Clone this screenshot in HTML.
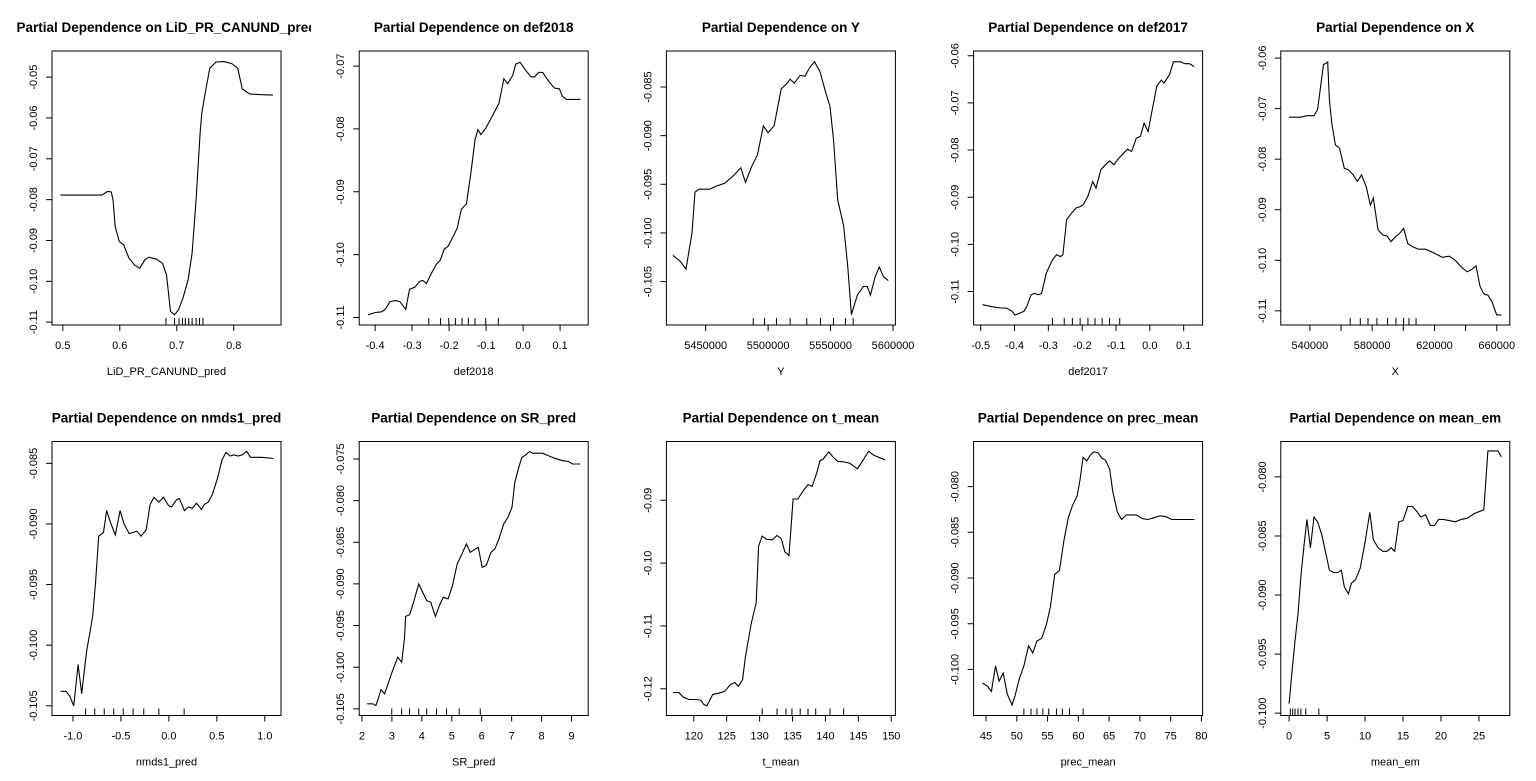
<!DOCTYPE html>
<html><head><meta charset="utf-8">
<style>
html,body{margin:0;padding:0;background:#fff;}
body{width:1536px;height:781px;position:relative;overflow:hidden;font-family:"Liberation Sans",Arial,sans-serif;}
svg{position:absolute;top:0;left:0;}
</style></head>
<body>
<svg id="chart" width="1536" height="781" xmlns="http://www.w3.org/2000/svg"></svg>
<script>
// ---- Panel 1: LiD_PR_CANUND_pred
const p1_x=[0.496,0.569,0.578,0.585,0.588,0.592,0.599,0.607,0.616,0.626,0.635,0.644,0.651,0.665,0.675,0.682,0.689,0.696,0.703,0.711,0.720,0.727,0.734,0.741,0.744,0.751,0.758,0.769,0.783,0.797,0.807,0.815,0.828,0.849,0.869];
const p1_y=[-0.0789,-0.0789,-0.0780,-0.0781,-0.0800,-0.0866,-0.0902,-0.0911,-0.0943,-0.0960,-0.0968,-0.0947,-0.0941,-0.0946,-0.0956,-0.0984,-0.1074,-0.1082,-0.1070,-0.1041,-0.0996,-0.0931,-0.0800,-0.0637,-0.0588,-0.0531,-0.0478,-0.0463,-0.0462,-0.0467,-0.0478,-0.0529,-0.0541,-0.0543,-0.0544];
const p1_rug=[0.681,0.696,0.704,0.710,0.715,0.721,0.727,0.734,0.740,0.746];
const p1_xt=[0.5,0.6,0.7,0.8];const p1_xl=["0.5","0.6","0.7","0.8"];
const p1_yt=[-0.11,-0.10,-0.09,-0.08,-0.07,-0.06,-0.05];const p1_yl=["-0.11","-0.10","-0.09","-0.08","-0.07","-0.06","-0.05"];
// ---- Panel 2: def2018
const p2_x=[-0.419,-0.398,-0.382,-0.371,-0.360,-0.344,-0.333,-0.317,-0.307,-0.293,-0.280,-0.271,-0.261,-0.248,-0.235,-0.224,-0.213,-0.203,-0.189,-0.178,-0.167,-0.153,-0.140,-0.130,-0.122,-0.114,-0.100,-0.081,-0.065,-0.052,-0.042,-0.028,-0.020,-0.008,0.005,0.021,0.031,0.042,0.053,0.069,0.085,0.098,0.106,0.117,0.155];
const p2_y=[-0.1096,-0.1092,-0.1091,-0.1086,-0.1075,-0.1073,-0.1075,-0.1087,-0.1055,-0.1052,-0.1043,-0.1041,-0.1046,-0.1030,-0.1016,-0.1009,-0.0991,-0.0987,-0.0971,-0.0958,-0.0928,-0.0919,-0.0865,-0.0817,-0.0801,-0.0809,-0.0798,-0.0777,-0.0759,-0.0720,-0.0728,-0.0715,-0.0697,-0.0694,-0.0705,-0.0717,-0.0717,-0.0710,-0.0710,-0.0724,-0.0735,-0.0736,-0.0748,-0.0753,-0.0753];
const p2_rug=[-0.255,-0.223,-0.201,-0.183,-0.165,-0.148,-0.130,-0.101,-0.067];
const p2_xt=[-0.4,-0.3,-0.2,-0.1,0.0,0.1];const p2_xl=["-0.4","-0.3","-0.2","-0.1","0.0","0.1"];
const p2_yt=[-0.11,-0.10,-0.09,-0.08,-0.07];const p2_yl=["-0.11","-0.10","-0.09","-0.08","-0.07"];
// ---- Panel 3: Y
const p3_x=[5423810,5429520,5434290,5439050,5441430,5444760,5453330,5458100,5465240,5472380,5478100,5481900,5486670,5491430,5496190,5500000,5504760,5510480,5515240,5517620,5520950,5525710,5529520,5533330,5537140,5541430,5546190,5549520,5552380,5555710,5560480,5563810,5566670,5571430,5576190,5579520,5581900,5585710,5589050,5592380,5596190];
const p3_y=[-0.1023,-0.1029,-0.1037,-0.1000,-0.0958,-0.0955,-0.0955,-0.0952,-0.0949,-0.0941,-0.0933,-0.0948,-0.0932,-0.0920,-0.0890,-0.0897,-0.0890,-0.0852,-0.0846,-0.0842,-0.0846,-0.0838,-0.0839,-0.0830,-0.0824,-0.0834,-0.0856,-0.0870,-0.0904,-0.0966,-0.0993,-0.1035,-0.1084,-0.1064,-0.1055,-0.1055,-0.1064,-0.1045,-0.1035,-0.1045,-0.1049];
const p3_rug=[5488100,5497140,5506670,5517620,5530950,5541900,5552380,5561900,5568100];
const p3_xt=[5450000,5500000,5550000,5600000];const p3_xl=["5450000","5500000","5550000","5600000"];
const p3_yt=[-0.105,-0.100,-0.095,-0.090,-0.085];const p3_yl=["-0.105","-0.100","-0.095","-0.090","-0.085"];
// ---- Panel 4: def2017
const p4_x=[-0.495,-0.469,-0.442,-0.425,-0.407,-0.399,-0.386,-0.372,-0.364,-0.351,-0.341,-0.330,-0.320,-0.306,-0.288,-0.276,-0.264,-0.257,-0.246,-0.232,-0.218,-0.206,-0.197,-0.183,-0.169,-0.159,-0.145,-0.131,-0.119,-0.106,-0.096,-0.082,-0.066,-0.054,-0.040,-0.028,-0.017,-0.005,0.009,0.021,0.034,0.042,0.058,0.070,0.091,0.103,0.117,0.131];
const p4_y=[-0.1128,-0.1132,-0.1135,-0.1135,-0.1142,-0.1150,-0.1146,-0.1142,-0.1132,-0.1107,-0.1104,-0.1107,-0.1104,-0.1061,-0.1033,-0.1022,-0.1026,-0.1022,-0.0948,-0.0934,-0.0923,-0.0920,-0.0916,-0.0898,-0.0867,-0.0881,-0.0842,-0.0831,-0.0823,-0.0831,-0.0821,-0.0810,-0.0798,-0.0803,-0.0775,-0.0771,-0.0743,-0.0761,-0.0707,-0.0664,-0.0652,-0.0658,-0.0640,-0.0613,-0.0613,-0.0617,-0.0617,-0.0623];
const p4_rug=[-0.288,-0.253,-0.229,-0.206,-0.183,-0.162,-0.141,-0.119,-0.089];
const p4_xt=[-0.5,-0.4,-0.3,-0.2,-0.1,0.0,0.1];const p4_xl=["-0.5","-0.4","-0.3","-0.2","-0.1","0.0","0.1"];
const p4_yt=[-0.11,-0.10,-0.09,-0.08,-0.07,-0.06];const p4_yl=["-0.11","-0.10","-0.09","-0.08","-0.07","-0.06"];
// ---- Panel 5: X
const p5_x=[526670,534290,538100,542670,544950,546860,548760,551430,552570,554100,556380,559050,562100,564760,567810,570480,573140,576190,578860,580760,583810,586860,589520,592190,594480,597520,600190,602860,605900,609710,614290,620000,624950,629520,633330,637140,640950,644000,646670,649330,651620,654290,656950,660000,663050];
const p5_y=[-0.0717,-0.0717,-0.0714,-0.0714,-0.0702,-0.0656,-0.0613,-0.0608,-0.0683,-0.0729,-0.0772,-0.0778,-0.0818,-0.0821,-0.0831,-0.0844,-0.0831,-0.0854,-0.0891,-0.0877,-0.0940,-0.0950,-0.0952,-0.0963,-0.0955,-0.0947,-0.0937,-0.0967,-0.0973,-0.0978,-0.0978,-0.0986,-0.0994,-0.0992,-0.1000,-0.1013,-0.1023,-0.1018,-0.1011,-0.1052,-0.1066,-0.1069,-0.1082,-0.1108,-0.1108];
const p5_rug=[565900,572380,577330,583050,589900,595240,600190,603620,608190];
const p5_xt=[540000,560000,580000,600000,620000,640000,660000];const p5_xl=["540000","","580000","","620000","","660000"];
const p5_yt=[-0.11,-0.10,-0.09,-0.08,-0.07,-0.06];const p5_yl=["-0.11","-0.10","-0.09","-0.08","-0.07","-0.06"];
// ---- Panel 6: nmds1_pred
const p6_x=[-1.128,-1.074,-1.033,-0.992,-0.971,-0.946,-0.909,-0.889,-0.856,-0.827,-0.794,-0.765,-0.732,-0.715,-0.682,-0.649,-0.608,-0.559,-0.509,-0.468,-0.414,-0.373,-0.332,-0.291,-0.237,-0.196,-0.155,-0.105,-0.056,-0.002,0.027,0.080,0.109,0.163,0.204,0.245,0.287,0.340,0.369,0.410,0.452,0.505,0.555,0.596,0.637,0.678,0.720,0.769,0.810,0.852,0.967,1.091];
const p6_y=[-0.1038,-0.1038,-0.1042,-0.1050,-0.1035,-0.1016,-0.1040,-0.1026,-0.1004,-0.0991,-0.0976,-0.0949,-0.0910,-0.0909,-0.0907,-0.0889,-0.0899,-0.0909,-0.0889,-0.0900,-0.0908,-0.0907,-0.0906,-0.0910,-0.0905,-0.0884,-0.0878,-0.0882,-0.0878,-0.0885,-0.0886,-0.0880,-0.0879,-0.0889,-0.0886,-0.0887,-0.0883,-0.0888,-0.0884,-0.0882,-0.0876,-0.0863,-0.0847,-0.0841,-0.0844,-0.0843,-0.0844,-0.0843,-0.0840,-0.0845,-0.0845,-0.0846];
const p6_rug=[-0.868,-0.773,-0.674,-0.575,-0.476,-0.373,-0.262,-0.105,0.159];
const p6_xt=[-1.0,-0.5,0.0,0.5,1.0];const p6_xl=["-1.0","-0.5","0.0","0.5","1.0"];
const p6_yt=[-0.105,-0.100,-0.095,-0.090,-0.085];const p6_yl=["-0.105","-0.100","-0.095","-0.090","-0.085"];
// ---- Panel 7: SR_pred
const p7_x=[2.172,2.358,2.464,2.570,2.636,2.756,2.862,2.994,3.100,3.193,3.326,3.419,3.458,3.591,3.723,3.896,4.028,4.161,4.294,4.453,4.585,4.718,4.877,5.023,5.182,5.314,5.487,5.619,5.752,5.884,6.017,6.150,6.309,6.441,6.574,6.733,6.879,7.011,7.104,7.237,7.343,7.475,7.595,7.701,8.032,8.231,8.430,8.695,8.894,9.026,9.292];
const p7_y=[-0.1044,-0.1044,-0.1046,-0.1035,-0.1027,-0.1032,-0.1021,-0.1007,-0.0997,-0.0988,-0.0994,-0.0965,-0.0939,-0.0937,-0.0922,-0.0900,-0.0910,-0.0920,-0.0922,-0.0939,-0.0926,-0.0916,-0.0918,-0.0902,-0.0876,-0.0866,-0.0852,-0.0862,-0.0859,-0.0856,-0.0880,-0.0878,-0.0862,-0.0858,-0.0846,-0.0828,-0.0820,-0.0808,-0.0778,-0.0760,-0.0748,-0.0745,-0.0741,-0.0743,-0.0743,-0.0746,-0.0749,-0.0752,-0.0753,-0.0756,-0.0756];
const p7_rug=[2.994,3.326,3.591,3.896,4.161,4.492,4.824,5.248,5.951];
const p7_xt=[2,3,4,5,6,7,8,9];const p7_xl=["2","3","4","5","6","7","8","9"];
const p7_yt=[-0.105,-0.100,-0.095,-0.090,-0.085,-0.080,-0.075];const p7_yl=["-0.105","-0.100","-0.095","-0.090","-0.085","-0.080","-0.075"];
// ---- Panel 8: t_mean
const p8_x=[116.84,117.74,118.37,119.28,120.18,121.08,121.54,121.99,122.89,123.80,124.70,125.60,126.23,126.78,127.41,127.86,128.76,129.49,129.85,130.39,131.02,131.93,132.65,133.28,133.82,134.46,135.09,135.81,136.63,137.35,137.98,138.70,139.16,139.61,140.51,141.23,141.87,142.77,143.67,144.85,145.66,146.57,147.29,148.19,149.10];
const p8_y=[-0.1206,-0.1206,-0.1213,-0.1217,-0.1217,-0.1218,-0.1225,-0.1227,-0.1209,-0.1207,-0.1204,-0.1193,-0.1190,-0.1196,-0.1185,-0.1148,-0.1095,-0.1063,-0.0973,-0.0957,-0.0962,-0.0963,-0.0956,-0.0961,-0.0982,-0.0988,-0.0898,-0.0898,-0.0885,-0.0875,-0.0878,-0.0856,-0.0837,-0.0835,-0.0823,-0.0832,-0.0838,-0.0839,-0.0841,-0.0850,-0.0837,-0.0822,-0.0828,-0.0832,-0.0836];
const p8_rug=[130.39,132.65,134.01,134.91,136.17,137.35,138.52,140.69,142.77];
const p8_xt=[120,125,130,135,140,145,150];const p8_xl=["120","125","130","135","140","145","150"];
const p8_yt=[-0.12,-0.11,-0.10,-0.09];const p8_yl=["-0.12","-0.11","-0.10","-0.09"];
// ---- Panel 9: prec_mean
const p9_x=[44.42,45.19,45.87,46.54,47.12,47.79,48.46,49.23,49.71,50.38,51.15,51.92,52.60,53.27,54.04,54.81,55.48,56.15,56.92,57.69,58.37,59.04,59.81,60.29,60.77,61.35,61.92,62.50,63.17,63.85,64.42,65.10,65.58,66.35,67.02,67.79,68.46,69.42,70.38,71.35,72.31,73.27,74.23,75.19,76.15,78.85];
const p9_y=[-0.1015,-0.1018,-0.1024,-0.0996,-0.1013,-0.1004,-0.1027,-0.1039,-0.1029,-0.1011,-0.0996,-0.0974,-0.0982,-0.0969,-0.0966,-0.0951,-0.0931,-0.0896,-0.0892,-0.0858,-0.0834,-0.0821,-0.0810,-0.0792,-0.0768,-0.0772,-0.0766,-0.0762,-0.0763,-0.0769,-0.0771,-0.0781,-0.0805,-0.0828,-0.0836,-0.0831,-0.0831,-0.0831,-0.0835,-0.0836,-0.0834,-0.0832,-0.0833,-0.0836,-0.0836,-0.0836];
const p9_rug=[51.15,52.31,53.27,54.23,55.19,56.44,57.40,58.56,60.77];
const p9_xt=[45,50,55,60,65,70,75,80];const p9_xl=["45","50","55","60","65","70","75","80"];
const p9_yt=[-0.100,-0.095,-0.090,-0.085,-0.080];const p9_yl=["-0.100","-0.095","-0.090","-0.085","-0.080"];
// ---- Panel 10: mean_em
const p10_x=[0,0.39,0.78,1.17,1.56,1.95,2.34,2.81,3.28,3.75,4.30,4.84,5.31,5.86,6.41,6.88,7.27,7.81,8.20,8.75,9.38,10.0,10.63,11.09,11.72,12.34,12.89,13.44,13.91,14.45,15.0,15.63,16.25,16.80,17.34,17.97,18.59,19.14,19.69,20.31,21.09,21.88,22.66,23.44,24.38,25.16,25.63,26.17,26.95,27.50,27.97];
const p10_y=[-0.0992,-0.0964,-0.0939,-0.0916,-0.0883,-0.0859,-0.0836,-0.0860,-0.0834,-0.0838,-0.0849,-0.0865,-0.0879,-0.0881,-0.0881,-0.0879,-0.0893,-0.0899,-0.0890,-0.0887,-0.0877,-0.0855,-0.0830,-0.0853,-0.0860,-0.0863,-0.0863,-0.0860,-0.0863,-0.0838,-0.0837,-0.0825,-0.0825,-0.0829,-0.0834,-0.0832,-0.0841,-0.0841,-0.0836,-0.0836,-0.0837,-0.0838,-0.0836,-0.0835,-0.0831,-0.0829,-0.0828,-0.0778,-0.0778,-0.0778,-0.0783];
const p10_rug=[0.16,0.47,0.78,1.17,1.56,2.19,3.91];
const p10_xt=[0,5,10,15,20,25];const p10_xl=["0","5","10","15","20","25"];
const p10_yt=[-0.100,-0.095,-0.090,-0.085,-0.080];const p10_yl=["-0.100","-0.095","-0.090","-0.085","-0.080"];

const panels=[
 {v:"LiD_PR_CANUND_pred",x:p1_x,y:p1_y,rug:p1_rug,xt:p1_xt,xl:p1_xl,yt:p1_yt,yl:p1_yl,xlim:[0.481,0.883],ylim:[-0.1107,-0.0436]},
 {v:"def2018",x:p2_x,y:p2_y,rug:p2_rug,xt:p2_xt,xl:p2_xl,yt:p2_yt,yl:p2_yl,xlim:[-0.443,0.176],ylim:[-0.1112,-0.0676]},
 {v:"Y",x:p3_x,y:p3_y,rug:p3_rug,xt:p3_xt,xl:p3_xl,yt:p3_yt,yl:p3_yl,xlim:[5418570,5601900],ylim:[-0.10946,-0.0813]},
 {v:"def2017",x:p4_x,y:p4_y,rug:p4_rug,xt:p4_xt,xl:p4_xl,yt:p4_yt,yl:p4_yl,xlim:[-0.521,0.156],ylim:[-0.1171,-0.0590]},
 {v:"X",x:p5_x,y:p5_y,rug:p5_rug,xt:p5_xt,xl:p5_xl,yt:p5_yt,yl:p5_yl,xlim:[521330,668380],ylim:[-0.1128,-0.0586]},
 {v:"nmds1_pred",x:p6_x,y:p6_y,rug:p6_rug,xt:p6_xt,xl:p6_xl,yt:p6_yt,yl:p6_yl,xlim:[-1.2186,1.169],ylim:[-0.1058,-0.0832]},
 {v:"SR_pred",x:p7_x,y:p7_y,rug:p7_rug,xt:p7_xt,xl:p7_xl,yt:p7_yt,yl:p7_yl,xlim:[1.907,9.557],ylim:[-0.1058,-0.0729]},
 {v:"t_mean",x:p8_x,y:p8_y,rug:p8_rug,xt:p8_xt,xl:p8_xl,yt:p8_yt,yl:p8_yl,xlim:[115.84,150.63],ylim:[-0.12425,-0.08065]},
 {v:"prec_mean",x:p9_x,y:p9_y,rug:p9_rug,xt:p9_xt,xl:p9_xl,yt:p9_yt,yl:p9_yl,xlim:[42.98,80.19],ylim:[-0.10504,-0.07507]},
 {v:"mean_em",x:p10_x,y:p10_y,rug:p10_rug,xt:p10_xt,xl:p10_xl,yt:p10_yt,yl:p10_yl,xlim:[-1.094,29.06],ylim:[-0.1002,-0.0770]}
];

const NS="http://www.w3.org/2000/svg";
const svg=document.getElementById('chart');
function mk(tag,attrs,parent){const e=document.createElementNS(NS,tag);for(const k in attrs)e.setAttribute(k,attrs[k]);parent.appendChild(e);return e;}

panels.forEach((p,i)=>{
  const col=i%5,row=Math.floor(i/5);
  const ox=col*307.2, oy=row*390.5;
  const L=52,R=281,T=51,B=325;
  const g=mk('svg',{x:ox,y:oy,width:311,height:390,overflow:'hidden'},svg);
  
  
  const sx=v=>L+(v-p.xlim[0])/(p.xlim[1]-p.xlim[0])*(R-L);
  const sy=v=>B-(v-p.ylim[0])/(p.ylim[1]-p.ylim[0])*(B-T);
  const t=mk('text',{x:(L+R)/2,y:32,'text-anchor':'middle','font-size':13.5,'font-weight':'bold',fill:'#000'},g);
  t.textContent='Partial Dependence on '+p.v;
  
  
  const box=mk('rect',{x:L,y:T,width:R-L,height:B-T,fill:'none',stroke:'#000','stroke-width':1},g);
  
  
  p.xt.forEach((v,k)=>{
    const x=sx(v);
    const tk=mk('line',{x1:x,x2:x,y1:B,y2:B+6,stroke:'#000'},g);
    
    
    if(p.xl[k]){const lb=mk('text',{x:x,y:B+24,'text-anchor':'middle','font-size':11,fill:'#000'},g);lb.textContent=p.xl[k];
    
    }
  });
  p.yt.forEach((v,k)=>{
    const y=sy(v);
    const tk=mk('line',{x1:L-6,x2:L,y1:y,y2:y,stroke:'#000'},g);
    
    
    const lb=mk('text',{x:37,y:y,'text-anchor':'middle','font-size':11,fill:'#000',transform:'rotate(-90 37 '+y+')'},g);
    lb.textContent=p.yl[k];
    
    
  });
  const xt=mk('text',{x:(L+R)/2,y:B+50,'text-anchor':'middle','font-size':11,fill:'#000'},g);
  xt.textContent=p.v;
  
  
  let d='';
  p.x.forEach((v,k)=>{d+=(k?'L':'M')+sx(v).toFixed(1)+','+sy(p.y[k]).toFixed(1);});
  const ln=mk('path',{d:d,fill:'none',stroke:'#000','stroke-width':1.1},g);
  
  
  p.rug.forEach(v=>{
    const x=sx(v);
    const r=mk('line',{x1:x,x2:x,y1:B,y2:B-7,stroke:'#000'},g);
    
    
  });
});
</script>
</body></html>
